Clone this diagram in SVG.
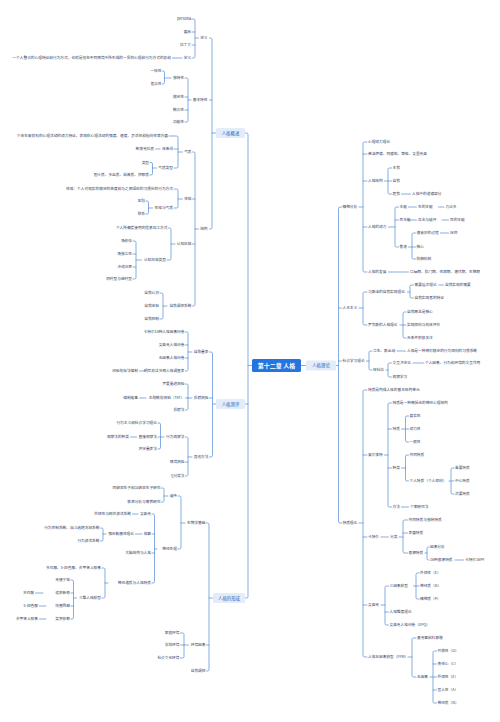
<svg xmlns="http://www.w3.org/2000/svg" width="500" height="722" viewBox="0 0 500 722">
<style>
text{font-family:"Noto Sans CJK SC","Noto Sans",sans-serif;font-size:3.7px;fill:#34425e}
.l{text-anchor:end}
.c{text-anchor:middle}
.k{font-size:4.4px;fill:#2a5fb5}
.root{font-size:6px;font-weight:bold;fill:#ffffff}
.bx{fill:#e3ecfa}
path{fill:none;stroke:#5189d6;stroke-width:0.7;stroke-linecap:round}
</style>
<rect width="500" height="722" fill="#ffffff"/>
<g id="connectors">
<path d="M248 365.5 H252 M301 365.5 H306 M336 365.5 H338.5"/>
<path d="M245 133 H246.5 Q248 133 248 134.5 V596.5 Q248 598 246.5 598 H245 M248 404 H245"/>
<path d="M209.5 38 H210.5 Q212 38 212 39.5 V227.5 Q212 229 210.5 229 H209.5 M212 100 H209.5 M212 133 H216"/>
<path d="M192 19 H193.5 Q195 19 195 20.5 V56.5 Q195 58 193.5 58 H192 M195 32 H192 M195 45 H192 M195 38 H198.5 M172.5 58 H182"/>
<path d="M185 78 H186.5 Q188 78 188 79.5 V120.5 Q188 122 186.5 122 H185 M188 97 H185 M188 110 H185 M188 100 H191"/>
<path d="M162.5 71 H163 Q164.5 71 164.5 72.5 V82.5 Q164.5 84 163 84 H162.5 M164.5 78 H171"/>
<path d="M192.5 152 H193.5 Q195 152 195 153.5 V304.5 Q195 306 193.5 306 H192.5 M195 199 H192.5 M195 244 H192.5 M195 229 H198.5"/>
<path d="M169 136 H176.5 Q178 136 178 137.5 V166.5 Q178 168 176.5 168 H174 M178 149 H174 M178 152 H182.5 M155.5 149 H160"/>
<path d="M150 162.5 H151 Q152.5 162.5 152.5 164 V173.5 Q152.5 175 151 175 H150 M152.5 168 H156.5"/>
<path d="M174 189 H176.5 Q178 189 178 190.5 V206.5 Q178 208 176.5 208 H174 M178 199 H182.5"/>
<path d="M146 201 H147 Q148.5 201 148.5 202.5 V212.5 Q148.5 214 147 214 H146 M148.5 208 H152.5"/>
<path d="M168.5 228 H169.5 Q171 228 171 229.5 V258.5 Q171 260 169.5 260 H167 M171 244 H175"/>
<path d="M133 241 H134.5 Q136 241 136 242.5 V277.5 Q136 279 134.5 279 H133 M136 254 H133 M136 267 H133 M136 260 H141.5"/>
<path d="M160 293 H161.5 Q163 293 163 294.5 V317.5 Q163 319 161.5 319 H160 M163 306 H167"/>
<path d="M209.5 352 H211 Q212.5 352 212.5 353.5 V455.5 Q212.5 457 211 457 H209.5 M212.5 398 H209.5 M212.5 404 H216"/>
<path d="M185.5 332 H186.5 Q188 332 188 333.5 V369.5 Q188 371 186.5 371 H185.5 M188 345 H185.5 M188 358 H185.5 M188 352 H192 M139.5 371 H145"/>
<path d="M185.5 384 H186.5 Q188 384 188 385.5 V408.5 Q188 410 186.5 410 H185.5 M188 398 H192 M188 398 H185.5 M139.5 398 H146"/>
<path d="M185.5 437 H186.5 Q188 437 188 438.5 V474.5 Q188 476 186.5 476 H185.5 M188 462 H185.5 M188 457 H192"/>
<path d="M158 423 H159 Q160.5 423 160.5 424.5 V447.5 Q160.5 449 159 449 H158 M160.5 437 H164 M160.5 437 H158 M130.5 437 H136.5"/>
<path d="M206.5 523 H207.5 Q209 523 209 524.5 V669.5 Q209 671 207.5 671 H206.5 M209 645 H206.5 M209 598 H213"/>
<path d="M178 496 H179.5 Q181 496 181 497.5 V547.5 Q181 549 179.5 549 H178 M181 523 H185"/>
<path d="M161.5 488 H162.5 Q164 488 164 489.5 V500.5 Q164 502 162.5 502 H161.5 M164 496 H168"/>
<path d="M152 514 H153 Q154.5 514 154.5 515.5 V581.5 Q154.5 583 153 583 H152 M154.5 534 H152 M154.5 553 H152 M154.5 549 H157 M132.5 514 H138 M135.5 534 H142"/>
<path d="M100.5 528 H101.5 Q103 528 103 529.5 V539.5 Q103 541 101.5 541 H100.5 M103 534 H106"/>
<path d="M102 568 H103.5 Q105 568 105 569.5 V596.5 Q105 598 103.5 598 H102 M105 583 H108"/>
<path d="M71 580 H72 Q73.5 580 73.5 581.5 V617.5 Q73.5 619 72 619 H71 M73.5 593 H71 M73.5 606 H71 M73.5 598 H76.5 M35.5 593 H43 M39.5 606 H46 M39.5 619 H46"/>
<path d="M180.5 633 H182.5 Q184 633 184 634.5 V656.5 Q184 658 182.5 658 H180.5 M184 645 H188.5 M184 645 H180.5"/>
<path d="M341.5 207 H340 Q338.5 207 338.5 208.5 V521.5 Q338.5 523 340 523 H341.5 M338.5 308 H341.5 M338.5 361 H341.5"/>
<path d="M367 142 H364.5 Q363 142 363 143.5 V270.5 Q363 272 364.5 272 H367 M363 154 H367 M363 181 H367 M363 227 H367 M359 207 H363"/>
<path d="M391.5 168 H389.5 Q388 168 388 169.5 V192.5 Q388 194 389.5 194 H391.5 M384.5 181 H391.5 M401.5 194 H410.5"/>
<path d="M398.5 207 H396.5 Q395 207 395 208.5 V245.5 Q395 247 396.5 247 H398.5 M395 220 H398.5 M388.5 227 H395 M408.5 207 H416.5 M438.5 207 H444 M408.5 220 H416.5 M442 220 H448.5"/>
<path d="M415.5 233 H413.5 Q412 233 412 234.5 V257.5 Q412 259 413.5 259 H415.5 M408.5 247 H415.5 M440.5 233 H448.5"/>
<path d="M388.5 272 H408.5"/>
<path d="M367 292 H364.5 Q363 292 363 293.5 V323.5 Q363 325 364.5 325 H367 M359 308 H363"/>
<path d="M413.5 285 H411.5 Q410 285 410 286.5 V296.5 Q410 298 411.5 298 H413.5 M407.5 292 H410 M438.8 285 H443.5"/>
<path d="M406 312 H404.5 Q403 312 403 313.5 V336.5 Q403 338 404.5 338 H406 M400 325 H406"/>
<path d="M372 351 H370.5 Q369 351 369 352.5 V368.5 Q369 370 370.5 370 H372 M366.5 361 H369 M397 351 H405.5"/>
<path d="M391.5 363 H389.5 Q388 363 388 364.5 V375.5 Q388 377 389.5 377 H391.5 M386 370 H388 M413 363 H423.5"/>
<path d="M367 390 H364.5 Q363 390 363 391.5 V655.5 Q363 657 364.5 657 H367 M363 455 H367 M363 537 H367 M363 605 H367 M359 523 H363"/>
<path d="M391.5 403 H389.5 Q388 403 388 404.5 V505.5 Q388 507 389.5 507 H391.5 M388 429 H391.5 M388 468 H391.5 M384.5 455 H388"/>
<path d="M408.5 416 H407 Q405.5 416 405.5 417.5 V440.5 Q405.5 442 407 442 H408.5 M401.5 429 H408.5"/>
<path d="M408.5 455 H407 Q405.5 455 405.5 456.5 V479.5 Q405.5 481 407 481 H408.5 M401.5 468 H405.5"/>
<path d="M454 468 H452.5 Q451 468 451 469.5 V492.5 Q451 494 452.5 494 H454 M449 481 H454"/>
<path d="M401.5 507 H408.5"/>
<path d="M381 537 H388.5 M407.5 520 H404.5 Q403 520 403 521.5 V551.5 Q403 553 404.5 553 H407.5 M403 533 H407.5 M399 537 H403"/>
<path d="M429 547 H428.5 Q427 547 427 548.5 V558.5 Q427 560 428.5 560 H429 M425 553 H427 M455 560 H463.5"/>
<path d="M388.5 586 H386.5 Q385 586 385 587.5 V623.5 Q385 625 386.5 625 H388.5 M385 612 H388.5 M381 605 H385"/>
<path d="M419 573 H417.5 Q416 573 416 574.5 V597.5 Q416 599 417.5 599 H419 M413.5 586 H419"/>
<path d="M416 638 H413.5 Q412 638 412 639.5 V675.5 Q412 677 413.5 677 H416 M408 657 H412"/>
<path d="M436.5 651 H434.5 Q433 651 433 652.5 V701.5 Q433 703 434.5 703 H436.5 M433 664 H436.5 M430 677 H436.5 M433 690 H436.5"/>
</g>
<g id="root"><rect x="252" y="359" width="49" height="13" rx="1.5" fill="#2574e0"/><text class="root c" x="276.5" y="367.6">第十二章 人格</text></g>
<g id="n-gaishu"><rect class="bx" x="216" y="128" width="29" height="10" rx="1.5"/><text class="k c" x="230.5" y="134.6">人格概述</text></g>
<g id="n-ceping"><rect class="bx" x="216" y="399" width="29" height="10" rx="1.5"/><text class="k c" x="230.5" y="405.6">人格测评</text></g>
<g id="n-xingcheng"><rect class="bx" x="213" y="593" width="32" height="10" rx="1.5"/><text class="k c" x="229" y="599.6">人格的形成</text></g>
<g id="n-lilun"><rect class="bx" x="306" y="360.5" width="30" height="10" rx="1.5"/><text class="k c" x="321" y="367.1">人格理论</text></g>
<g id="left-gaishu">
<text class="l" x="207.5" y="39.3">定义</text>
<text class="l" x="191" y="20.3">persona</text>
<text class="l" x="191" y="33.3">面具</text>
<text class="l" x="191" y="46.3">拉丁文</text>
<text class="l" x="191" y="59.3">定义</text>
<text class="l" x="171" y="59.3">一个人整合的心理特征和行为方式，也就是他在不同情境中所形成的一贯的心理和行为方式的总和</text>
<text class="l" x="207.5" y="101.3">基本特性</text>
<text class="l" x="184" y="79.3">独特性</text>
<text class="l" x="161.5" y="72.3">一致性</text>
<text class="l" x="161.5" y="85.3">差异性</text>
<text class="l" x="184" y="98.3">稳定性</text>
<text class="l" x="184" y="111.3">统合性</text>
<text class="l" x="184" y="123.3">功能性</text>
<text class="l" x="207.5" y="230.3">结构</text>
<text class="l" x="191.5" y="153.3">气质</text>
<text class="l" x="168" y="137.3">个体生来就有的心理活动的动力特征，表现在心理活动的强度、速度、灵活性和指向性等方面</text>
<text class="l" x="173" y="150.3">体液说</text>
<text class="l" x="154" y="150.3">希波克拉底</text>
<text class="l" x="173" y="169.3">气质类型</text>
<text class="l" x="149" y="163.8">类型</text>
<text class="l" x="149" y="176.3">胆汁质、多血质、粘液质、抑郁质</text>
<text class="l" x="191.5" y="200.3">性格</text>
<text class="l" x="173" y="190.3">性格：个人对现实的稳定的态度和与之相适应的习惯化的行为方式</text>
<text class="l" x="173" y="209.3">性格与气质</text>
<text class="l" x="145" y="202.3">区别</text>
<text class="l" x="145" y="215.3">联系</text>
<text class="l" x="191.5" y="245.3">认知风格</text>
<text class="l" x="167.5" y="229.3">个人所偏爱使用的信息加工方式</text>
<text class="l" x="166" y="261.3">认知风格类型</text>
<text class="l" x="132" y="242.3">场依存</text>
<text class="l" x="132" y="255.3">场独立性</text>
<text class="l" x="132" y="268.3">冲动沉思</text>
<text class="l" x="132" y="280.3">同时型与继时型</text>
<text class="l" x="191.5" y="307.3">自我调控系统</text>
<text class="l" x="159" y="294.3">自我认识</text>
<text class="l" x="159" y="307.3">自我体验</text>
<text class="l" x="159" y="320.3">自我控制</text>
</g>
<g id="left-ceping">
<text class="l" x="208.5" y="353.3">自陈量表</text>
<text class="l" x="184.5" y="333.3">卡特尔16种人格因素问卷</text>
<text class="l" x="184.5" y="346.3">艾森克人格问卷</text>
<text class="l" x="184.5" y="359.3">五因素人格问卷</text>
<text class="l" x="184.5" y="372.3">明尼苏达多相人格调查表</text>
<text class="l" x="138" y="372.3">经验效标法编制</text>
<text class="l" x="208.5" y="399.3">投射测验</text>
<text class="l" x="184.5" y="385.3">罗夏墨迹测验</text>
<text class="l" x="184.5" y="399.3">主题统觉测验（TAT）</text>
<text class="l" x="138" y="399.3">编制故事</text>
<text class="l" x="184.5" y="411.3">投射法</text>
<text class="l" x="208.5" y="458.3">其他方法</text>
<text class="l" x="184.5" y="438.3">行为观察法</text>
<text class="l" x="157" y="424.3">行为主义和社会学习理论</text>
<text class="l" x="157" y="438.3">直接观察法</text>
<text class="l" x="129" y="438.3">观察法的种类</text>
<text class="l" x="157" y="450.3">评定量表法</text>
<text class="l" x="184.5" y="463.3">情境测验</text>
<text class="l" x="184.5" y="477.3">Q分类法</text>
</g>
<g id="left-xingcheng">
<text class="l" x="205.5" y="524.3">生物学基础</text>
<text class="l" x="177" y="497.3">遗传</text>
<text class="l" x="160.5" y="489.3">同卵双生子和异卵双生子研究</text>
<text class="l" x="160.5" y="503.3">家谱分析与寄养研究</text>
<text class="l" x="177" y="550.3">神经生理</text>
<text class="l" x="151" y="515.3">艾森克</text>
<text class="l" x="131" y="515.3">外倾性与网状激活系统</text>
<text class="l" x="151" y="535.3">格雷</text>
<text class="l" x="134" y="535.3">强化敏感性理论</text>
<text class="l" x="99.5" y="529.3">行为抑制系统、战斗逃跑冻结系统</text>
<text class="l" x="99.5" y="542.3">行为激活系统</text>
<text class="l" x="151" y="554.3">大脑结构与人格</text>
<text class="l" x="151" y="584.3">神经递质与人格特质</text>
<text class="l" x="101" y="569.3">多巴胺、5-羟色胺、去甲肾上腺素</text>
<text class="l" x="101" y="599.3">三维人格模型</text>
<text class="l" x="70" y="581.3">克隆宁格</text>
<text class="l" x="70" y="594.3">追求新奇</text>
<text class="l" x="34" y="594.3">多巴胺</text>
<text class="l" x="70" y="607.3">伤害回避</text>
<text class="l" x="38" y="607.3">5-羟色胺</text>
<text class="l" x="70" y="620.3">奖赏依赖</text>
<text class="l" x="38" y="620.3">去甲肾上腺素</text>
<text class="l" x="205.5" y="646.3">环境因素</text>
<text class="l" x="179.5" y="634.3">家庭环境</text>
<text class="l" x="179.5" y="646.3">学校环境</text>
<text class="l" x="179.5" y="659.3">社会文化环境</text>
<text class="l" x="205.5" y="672.3">自我调控</text>
</g>
<g id="right-lilun">
<text x="342.5" y="208.3">精神分析</text>
<text x="368" y="143.3">心理动力理论</text>
<text x="368" y="155.3">弗洛伊德、阿德勒、荣格、艾里克森</text>
<text x="368" y="182.3">人格结构</text>
<text x="392.5" y="169.3">本我</text>
<text x="392.5" y="182.3">自我</text>
<text x="392.5" y="195.3">超我</text>
<text x="412" y="195.3">人格中的道德部分</text>
<text x="368" y="228.3">人格的动力</text>
<text x="399.5" y="208.3">本能</text>
<text x="418" y="208.3">生的本能</text>
<text x="445.5" y="208.3">力比多</text>
<text x="399.5" y="221.3">死本能</text>
<text x="418" y="221.3">攻击与破坏</text>
<text x="450" y="221.3">死的本能</text>
<text x="399.5" y="248.3">焦虑</text>
<text x="416.5" y="234.3">潜意识的过程</text>
<text x="450" y="234.3">压抑</text>
<text x="416.5" y="248.3">核心</text>
<text x="416.5" y="260.3">防御机制</text>
<text x="368" y="273.3">人格的发展</text>
<text x="410" y="273.3">口唇期、肛门期、性器期、潜伏期、生殖期</text>
<text x="342.5" y="309.3">人本主义</text>
<text x="368" y="293.3">马斯洛的自我实现理论</text>
<text x="414.5" y="286.3">需要层次理论</text>
<text x="445" y="286.3">自我实现的需要</text>
<text x="414.5" y="299.3">自我实现者的特征</text>
<text x="368" y="326.3">罗杰斯的人格理论</text>
<text x="407" y="313.3">自我概念是核心</text>
<text x="407" y="326.3">实现倾向与机体评价</text>
<text x="407" y="339.3">无条件积极关注</text>
<text x="342.5" y="362.3">社会学习理论</text>
<text x="373" y="352.3">华生、斯金纳</text>
<text x="407" y="352.3">人格是一种相对稳定的行为倾向的习惯系统</text>
<text x="373" y="371.3">班杜拉</text>
<text x="392.5" y="364.3">交互决定论</text>
<text x="425" y="364.3">个人因素、行为和环境的交互作用</text>
<text x="392.5" y="378.3">观察学习</text>
<text x="342.5" y="524.3">特质理论</text>
<text x="368" y="391.3">特质是构成人格的基本结构单元</text>
<text x="368" y="456.3">奥尔波特</text>
<text x="392.5" y="404.3">特质是一种概括化的神经心理结构</text>
<text x="392.5" y="430.3">特质</text>
<text x="409.5" y="417.3">真实性</text>
<text x="409.5" y="430.3">动力性</text>
<text x="409.5" y="443.3">一般性</text>
<text x="392.5" y="469.3">种类</text>
<text x="409.5" y="456.3">共同特质</text>
<text x="409.5" y="482.3">个人特质（个人倾向）</text>
<text x="455" y="469.3">首要特质</text>
<text x="455" y="482.3">中心特质</text>
<text x="455" y="495.3">次要特质</text>
<text x="392.5" y="508.3">方法</text>
<text x="410" y="508.3">个案研究法</text>
<text x="368" y="538.3">卡特尔</text>
<text x="390" y="538.3">分类</text>
<text x="408.5" y="521.3">共同特质与独特特质</text>
<text x="408.5" y="534.3">表面特质</text>
<text x="408.5" y="554.3">根源特质</text>
<text x="430" y="548.3">因素分析</text>
<text x="430" y="561.3">16种根源特质</text>
<text x="465" y="561.3">卡特尔16PF</text>
<text x="368" y="606.3">艾森克</text>
<text x="389.5" y="587.3">三因素模型</text>
<text x="420" y="574.3">外倾性（E）</text>
<text x="420" y="587.3">神经质（N）</text>
<text x="420" y="600.3">精神质（P）</text>
<text x="389.5" y="613.3">人格维度理论</text>
<text x="389.5" y="626.3">艾森克人格问卷（EPQ）</text>
<text x="368" y="658.3">人格五因素模型（FFM）</text>
<text x="417" y="639.3">麦克雷和科斯塔</text>
<text x="417" y="678.3">五因素</text>
<text x="437.5" y="652.3">开放性（O）</text>
<text x="437.5" y="665.3">责任心（C）</text>
<text x="437.5" y="678.3">外倾性（E）</text>
<text x="437.5" y="691.3">宜人性（A）</text>
<text x="437.5" y="704.3">神经质（N）</text>
</g>
</svg>
